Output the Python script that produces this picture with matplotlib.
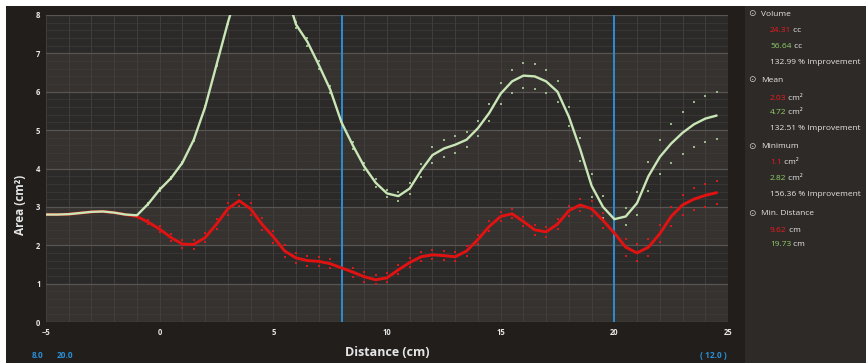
import numpy as np
import matplotlib
matplotlib.use("Agg")
import matplotlib.pyplot as plt
from matplotlib.patches import Rectangle

# ---------------- data ----------------
distance = np.arange(-5.0, 25.0, 0.5)   # sampling grid, cm

green_area = [2.80, 2.80, 2.81, 2.84, 2.87, 2.88, 2.85, 2.80, 2.78,
              3.08, 3.45, 3.75, 4.15, 4.75, 5.60, 6.70, 7.80,
              8.80, 9.50, 9.80, 9.60, 8.70,
              7.75, 7.30, 6.70, 6.06, 5.20, 4.60, 4.05, 3.63,
              3.35, 3.28, 3.48, 3.95,
              4.35, 4.52, 4.62, 4.75, 5.05, 5.45,
              5.95, 6.27, 6.42, 6.40, 6.27, 6.00,
              5.35, 4.50, 3.55, 3.00, 2.68, 2.75,
              3.10, 3.80, 4.30, 4.65, 4.93, 5.15, 5.30, 5.38]

red_area = [2.80, 2.80, 2.81, 2.84, 2.87, 2.88, 2.85, 2.80, 2.75,
            2.60, 2.42, 2.20, 2.03, 2.02, 2.20, 2.55, 2.95,
            3.16, 2.95, 2.55, 2.22, 1.85,
            1.67, 1.60, 1.58, 1.52, 1.41, 1.30, 1.18, 1.10,
            1.15, 1.36, 1.55, 1.70,
            1.75, 1.73, 1.70, 1.85, 2.15, 2.49,
            2.75, 2.82, 2.62, 2.40, 2.35, 2.55,
            2.90, 3.05, 2.95, 2.65, 2.32, 1.95,
            1.80, 1.95, 2.30, 2.75, 3.05, 3.20, 3.30, 3.37]

# half-width of the scatter of the raw sample dots around each curve
green_dot_spread = [0, 0, 0, 0, 0, 0, 0, 0, 0,
                    0.03, 0.03, 0.03, 0.03, 0.03, 0.03, 0.03, 0.03,
                    0.05, 0.05, 0.05, 0.05, 0.05,
                    0.08, 0.10, 0.10, 0.10, 0.10, 0.10, 0.10, 0.10,
                    0.10, 0.12, 0.15, 0.18,
                    0.20, 0.22, 0.22, 0.20, 0.20, 0.22,
                    0.28, 0.30, 0.33, 0.33, 0.30, 0.28,
                    0.25, 0.30, 0.30, 0.28, 0.22, 0.22,
                    0.30, 0.38, 0.45, 0.50, 0.55, 0.58, 0.60, 0.62]

red_dot_spread = [0, 0, 0, 0, 0, 0, 0, 0, 0,
                  0.05, 0.08, 0.10, 0.10, 0.12, 0.12, 0.13, 0.15,
                  0.15, 0.15, 0.15, 0.15, 0.15,
                  0.13, 0.13, 0.12, 0.12, 0.12, 0.12, 0.13, 0.12,
                  0.12, 0.12, 0.12, 0.12,
                  0.12, 0.12, 0.12, 0.12, 0.13, 0.13,
                  0.12, 0.12, 0.12, 0.13, 0.13, 0.13,
                  0.13, 0.15, 0.20, 0.20, 0.22, 0.22,
                  0.22, 0.22, 0.22, 0.25, 0.25, 0.28, 0.30, 0.30]

marker_positions = [8.0, 20.0]
x_ticks = [-5, 0, 5, 10, 15, 20, 25]
y_ticks = [0, 1, 2, 3, 4, 5, 6, 7, 8]

legend_groups = [
    ("Volume", [("24.31", " cc", "red"), ("56.64", " cc", "green"),
                ("132.99 % Improvement", "", "white")]),
    ("Mean", [("2.03", " cm²", "red"), ("4.72", " cm²", "green"),
              ("132.51 % Improvement", "", "white")]),
    ("Minimum", [("1.1", " cm²", "red"), ("2.82", " cm²", "green"),
                 ("156.36 % Improvement", "", "white")]),
    ("Min. Distance", [("9.62", " cm", "red"), ("19.73", " cm", "green")]),
]

# ---------------- style ----------------
W, H = 866, 363
BG = "#221e1c"
PANEL = "#2e2a27"
PLOT_BG = "#2c2a28"
BAND = "#353230"
GREEN = "#c9e6b6"
GREEN_DOT = "#98b889"
RED = "#e01212"
RED_DOT = "#d01c1c"
BLUE = "#2a8ed6"
TXT = "#e6e6e6"
FONT = ["Open Sans", "DejaVu Sans"]

plt.rcParams["font.family"] = FONT

fig = plt.figure(figsize=(W / 100, H / 100), dpi=100, facecolor="white")

def fx(px):
    return px / W

def fy(py):
    return 1 - py / H

# dark background with thin white border at top/left
fig.patches.append(Rectangle((fx(6), 0), 1 - fx(6), fy(6), transform=fig.transFigure,
                             facecolor=BG, edgecolor="none", zorder=-10))
fig.patches.append(Rectangle((fx(745), 0), 1 - fx(745), fy(6), transform=fig.transFigure,
                             facecolor=PANEL, edgecolor="none", zorder=-9))

left, right, top, bottom = 46, 728, 15, 322
ax = fig.add_axes([fx(left), fy(bottom), fx(right - left), (bottom - top) / H])
ax.set_facecolor(PLOT_BG)
ax.set_xlim(-5, 25)
ax.set_ylim(0, 8)

# alternating bands
for y0 in [0, 2, 4, 6]:
    ax.axhspan(y0, y0 + 1, color=BAND, zorder=0, lw=0)

# grid
for xv in np.arange(-5, 26, 1):
    ax.axvline(xv, color="#444140", lw=0.6, zorder=1)
for yv in np.arange(0, 8.01, 0.2):
    ax.axhline(yv, color="#3e3b39", lw=0.5, zorder=1)
for yv in y_ticks:
    ax.axhline(yv, color="#575452", lw=0.9, zorder=1)

for s in ax.spines.values():
    s.set_visible(False)

ax.set_xticks(x_ticks)
ax.set_yticks(y_ticks)
ax.tick_params(length=0, colors=TXT, labelsize=5.5, pad=4)
for lab in ax.get_xticklabels() + ax.get_yticklabels():
    lab.set_fontweight("bold")

# blue marker lines
for m in marker_positions:
    ax.axvline(m, color=BLUE, lw=1.4, zorder=5)

g = np.array(green_area)
r = np.array(red_area)
gs = np.array(green_dot_spread)
rs = np.array(red_dot_spread)

# dots
for arr, col in [(r + rs, RED_DOT), (r - rs, RED_DOT), (g + gs, GREEN_DOT), (g - gs, GREEN_DOT)]:
    ax.plot(distance, arr, ls="none", marker="s", ms=1.7, mew=0, color=col, zorder=3)

# curves
ax.plot(distance, r, color=RED, lw=2.1, zorder=6, solid_capstyle="round",
        solid_joinstyle="round")
ax.plot(distance, g, color=GREEN, lw=1.7, zorder=7, solid_capstyle="round",
        solid_joinstyle="round")

# axis labels
fig.text(fx(20), fy(205), "Area (cm²)", rotation=90, ha="center", va="center",
         color=TXT, fontsize=8.5, fontweight="bold")
fig.text(fx(387), fy(352), "Distance (cm)", ha="center", va="center",
         color=TXT, fontsize=9, fontweight="bold")

# bottom blue readouts
fig.text(fx(38), fy(356), "8.0", ha="center", va="center", color=BLUE,
         fontsize=6, fontweight="bold")
fig.text(fx(65), fy(356), "20.0", ha="center", va="center", color=BLUE,
         fontsize=6, fontweight="bold")
fig.text(fx(727), fy(356), "( 12.0 )", ha="right", va="center", color=BLUE,
         fontsize=6, fontweight="bold")

# legend panel
colors = {"red": "#f01a20", "green": "#8fd06a", "white": TXT}
header_y = [14, 80, 146, 213]
row_ys = [[31, 47, 62], [98, 113, 129], [163, 178, 195], [230, 245]]
for (head, rows), hy, rys in zip(legend_groups, header_y, row_ys):
    fig.text(fx(752), fy(hy), "⊙", ha="center", va="center", color="#cfcfcf",
             fontsize=6.5, family=["DejaVu Sans"])
    fig.text(fx(761), fy(hy), head, ha="left", va="center", color=TXT, fontsize=6)
    for (num, unit, col), ry in zip(rows, rys):
        t = fig.text(fx(770), fy(ry), num, ha="left", va="center",
                     color=colors[col], fontsize=6)
        if unit:
            fig.canvas.draw()
            bb = t.get_window_extent()
            fig.text(bb.x1 / W, fy(ry), unit, ha="left", va="center",
                     color=TXT, fontsize=6)

fig.savefig("out.png", dpi=100, facecolor=fig.get_facecolor())
